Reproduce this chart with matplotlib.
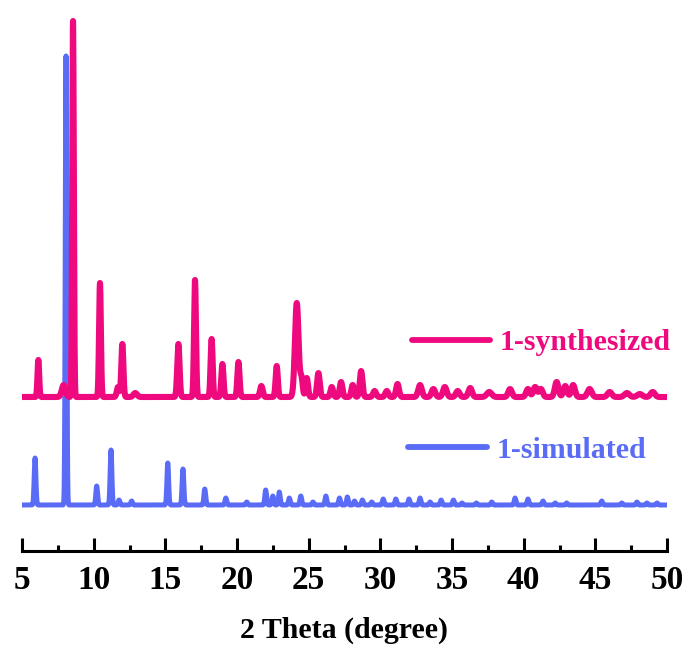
import numpy as np
import matplotlib.pyplot as plt

plt.rcParams['font.family'] = 'Liberation Serif'
plt.rcParams['font.weight'] = 'bold'

c_syn = '#EE0A7E'
c_sim = '#5A6CF6'

# simulated pattern: peak position (2theta) and intensity (a.u.)
sim_pos = [5.91, 8.07, 10.21, 11.21, 11.77, 12.65, 15.17, 16.23, 17.75, 19.22,
           20.68, 22.0, 22.5, 22.95, 23.65, 24.45, 25.3, 26.2, 27.15, 27.7,
           28.2, 28.75, 29.4, 30.2, 31.08, 32.0, 32.77, 33.47, 34.24, 35.1,
           35.7, 36.7, 37.77, 39.4, 40.3, 41.35, 42.2, 43.0, 45.45, 46.85,
           47.9, 48.6, 49.3]
sim_int = [47, 449, 19, 55, 5, 4, 42, 36, 16, 7,
           3, 15, 9, 13, 7, 9, 3, 9, 7, 8,
           4, 5, 3, 6, 6, 6, 7, 3, 5, 5,
           2, 2, 3, 7, 6, 4, 2, 2, 4, 2,
           3, 2, 2]

# as-synthesized pattern
syn_pos = [6.14, 7.9, 8.56, 10.44, 11.7, 12.0, 12.9, 15.91, 17.07, 18.23,
           18.98, 20.1, 21.7, 22.77, 24.17, 24.5, 24.87, 25.68, 26.61, 27.26,
           28.07, 28.66, 29.6, 30.45, 31.2, 32.77, 33.7, 34.5, 35.4, 36.27,
           37.6, 39.05, 40.3, 40.8, 41.2, 42.3, 42.9, 43.45, 44.6, 46.0,
           47.2, 48.1, 49.0]
syn_int = [37, 12, 376, 114, 10, 53, 4, 53, 117, 58,
           33, 35, 11, 31, 94, 18, 19, 24, 10, 15,
           12, 26, 6, 6, 13, 12, 8, 10, 6, 9,
           5, 8, 8, 10, 8, 15, 11, 12, 8, 5,
           4, 3, 5]
syn_fwhm = [0.14, 0.3, 0.13, 0.15, 0.2, 0.17, 0.3, 0.19, 0.16, 0.17,
            0.18, 0.18, 0.22, 0.18, 0.3, 0.2, 0.2, 0.22, 0.22, 0.22,
            0.22, 0.22, 0.25, 0.25, 0.24, 0.3, 0.3, 0.3, 0.3, 0.3,
            0.4, 0.3, 0.3, 0.3, 0.3, 0.3, 0.3, 0.3, 0.35, 0.35,
            0.4, 0.4, 0.35]
syn_offset = 108

tth = np.arange(5.0, 50.0001, 0.01)


def profile(pos, inten, fwhm):
    y = np.zeros_like(tth)
    for p, h, w in zip(pos, inten, fwhm):
        s = w / 2.3548
        y += h * np.exp(-0.5 * ((tth - p) / s) ** 2)
    return y


sim_fwhm = [0.14] * len(sim_pos)
sim_fwhm[1] = 0.12
y_sim = profile(sim_pos, sim_int, sim_fwhm)
y_syn = profile(syn_pos, syn_int, syn_fwhm) + syn_offset

fig = plt.figure(figsize=(6.93, 6.69), dpi=100)
ax = fig.add_axes([22 / 693, 118 / 669, 645 / 693, 551 / 669])

ax.plot(tth, y_sim, color=c_sim, lw=3.6, solid_joinstyle='round', zorder=2)
ax.plot(tth, y_syn, color=c_syn, lw=4.4, solid_joinstyle='round', zorder=3)

ax.set_xlim(5, 50)
ax.set_ylim(-46, 505)

for s in ['left', 'right', 'top']:
    ax.spines[s].set_visible(False)
ax.spines['bottom'].set_linewidth(2.2)
ax.set_yticks([])
ax.set_xticks(np.arange(5, 51, 5))
ax.set_xticks(np.arange(7.5, 50, 5), minor=True)
ax.tick_params(axis='x', which='major', direction='in', length=9.5, width=2.2,
               labelsize=24, pad=10)
ax.tick_params(axis='x', which='minor', direction='in', length=4, width=2.2)
for lab in ax.get_xticklabels():
    lab.set_fontweight('bold')
ax.set_xlabel('2 Theta (degree)', fontsize=21.5, fontweight='bold', labelpad=15)

# labels next to each trace
ax.plot([0.605, 0.726], [0.383, 0.383], transform=ax.transAxes, color=c_syn,
        lw=4.2, solid_capstyle='round', clip_on=False)
ax.text(0.741, 0.378, '1-synthesized', transform=ax.transAxes, color=c_syn,
        fontsize=21.5, fontweight='bold', va='center', ha='left')
ax.plot([0.598, 0.721], [0.1887, 0.1887], transform=ax.transAxes, color=c_sim,
        lw=4.2, solid_capstyle='round', clip_on=False)
ax.text(0.736, 0.183, '1-simulated', transform=ax.transAxes, color=c_sim,
        fontsize=21.5, fontweight='bold', va='center', ha='left')

fig.savefig('out.png', dpi=100, facecolor='white')
